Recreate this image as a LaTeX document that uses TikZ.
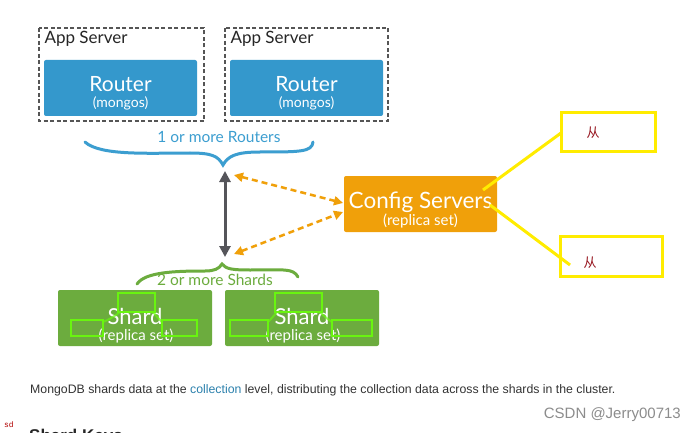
\documentclass[tikz,border=0pt]{standalone}
\usepackage{fontspec}
\setmainfont{Lato}
\newfontfamily\arialfont{Liberation Sans}
\newfontfamily\cjkfont{Noto Sans CJK SC}
\newfontfamily\monofont{Liberation Mono}
\usetikzlibrary{arrows.meta}
\definecolor{routerblue}{RGB}{52,152,204}
\definecolor{braceblue}{RGB}{60,158,208}
\definecolor{cfgorange}{RGB}{240,160,10}
\definecolor{shardgreen}{RGB}{108,172,62}
\definecolor{limegreen}{RGB}{105,245,15}
\definecolor{markyellow}{RGB}{255,236,0}
\definecolor{darkarrow}{RGB}{85,85,90}
\definecolor{dashgray}{RGB}{85,85,85}
\definecolor{cjkred}{RGB}{150,20,30}
\begin{document}
\begin{tikzpicture}[x=1pt,y=-1pt,
  appbox/.style={draw=dashgray,line width=1.3pt,dash pattern=on 4pt off 2.5pt},
  bigtxt/.style={text=white,font=\fontsize{21}{22}\selectfont,inner sep=0pt},
  smalltxt/.style={text=white,font=\fontsize{14}{15}\selectfont,inner sep=0pt},
  subtxt/.style={text=white,font=\fontsize{15}{16}\selectfont,inner sep=0pt},
  markbox/.style={draw=markyellow,line width=3pt},
  markline/.style={markyellow,line width=3pt},
  limebox/.style={draw=limegreen,line width=2.8pt},
  orangearrow/.style={cfgorange,line width=2.5pt,dash pattern=on 6pt off 4pt,{Triangle[length=9pt,width=9pt]}-{Triangle[length=9pt,width=9pt]}},
]
\useasboundingbox (0,0) rectangle (696,433);
\fill[white] (0,0) rectangle (696,433);

% App servers
\draw[appbox] (39,28) rectangle (204,121);
\node[anchor=west,font=\fontsize{17}{18}\selectfont,text=black!85] (app1) at (41,39) {App Server};
\fill[routerblue,rounded corners=2pt] (44,60) rectangle (197,116);
\node[bigtxt] (r1) at (120.5,84) {Router};
\node[smalltxt] (r1s) at (120.5,103) {(mongos)};

\draw[appbox] (225,28) rectangle (388,121);
\node[anchor=west,font=\fontsize{17}{18}\selectfont,text=black!85] (app2) at (227,39) {App Server};
\fill[routerblue,rounded corners=2pt] (230,60) rectangle (383,116);
\node[bigtxt] (r2) at (306.5,84) {Router};
\node[smalltxt] (r2s) at (306.5,103) {(mongos)};

% Blue brace
\node[text=braceblue,font=\fontsize{15.5}{16}\selectfont] (rlabel) at (219,137) {1 or more Routers};
\draw[braceblue,line width=3pt,line cap=round] (85,142) .. controls (100,156) and (150,153) .. (190,153)
  .. controls (212,153) and (218,156) .. (223,165)
  .. controls (228,156) and (236,152) .. (260,152)
  .. controls (300,152) and (312,152) .. (313,142);
\coordinate (btop) at (225,171);

% Green brace
\draw[shardgreen,line width=3pt,line cap=round] (137,284) .. controls (145,272) and (175,271) .. (205,271)
  .. controls (214,271) and (219,269) .. (222,264)
  .. controls (226,269) and (232,270) .. (250,270)
  .. controls (285,270) and (293,268) .. (298,277);
\node[text=shardgreen,font=\fontsize{15.5}{16}\selectfont] (slabel) at (215,280) {2 or more Shards};
\coordinate (bbot) at (225,257);

% vertical arrow
\draw[darkarrow,line width=3pt,{Triangle[length=11pt,width=11pt]}-{Triangle[length=11pt,width=11pt]}] (btop) -- (bbot);

% Config servers
\fill[cfgorange,rounded corners=2pt] (344,176) rectangle (497,232);
\node[text=white,font=\fontsize{22.5}{23}\selectfont,inner sep=0pt] (cfg) at (420.5,202) {Config Servers};
\node[subtxt] (cfgs) at (420.5,221) {(replica set)};
\coordinate (cfgL1) at (343,203);
\coordinate (cfgL2) at (343,212);
\coordinate (o1) at (234,175);
\coordinate (o2) at (234,254);
\draw[orangearrow] (o1) -- (cfgL1);
\draw[orangearrow] (o2) -- (cfgL2);

% Shards
\fill[shardgreen,rounded corners=2pt] (58,290) rectangle (212,346);
\node[text=white,font=\fontsize{22}{23}\selectfont,inner sep=0pt] (sh1) at (135,316) {Shard};
\node[subtxt] (sh1s) at (136,336) {(replica set)};
\fill[shardgreen,rounded corners=2pt] (225,290) rectangle (379,346);
\node[text=white,font=\fontsize{22}{23}\selectfont,inner sep=0pt] (sh2) at (302,316) {Shard};
\node[subtxt] (sh2s) at (303,336) {(replica set)};

% lime overlay boxes
\draw[limebox] (118,293) rectangle (155,312);
\draw[limebox] (71,320) rectangle (103,336);
\draw[limebox] (162,320) rectangle (197,336);
\draw[limegreen,line width=2pt,opacity=0.7] (120,312) .. controls (112,318) and (108,320) .. (103,322);
\draw[limegreen,line width=2pt,opacity=0.7] (153,312) .. controls (158,318) and (160,320) .. (162,322);
\draw[limebox] (275,293) rectangle (322,312);
\draw[limebox] (230,320) rectangle (268,336);
\draw[limebox] (332,320) rectangle (372,336);
\draw[limegreen,line width=2pt,opacity=0.7] (277,312) .. controls (272,318) and (270,320) .. (268,322);
\draw[limegreen,line width=2pt,opacity=0.7] (320,312) .. controls (326,318) and (329,320) .. (332,322);

% yellow marks
\draw[markbox] (561,113) rectangle (655,152);
\draw[markbox] (560,236) rectangle (662,276);
\node[text=cjkred,font=\cjkfont\fontsize{13}{13}\selectfont] (c1) at (593,133) {从};
\node[text=cjkred,font=\cjkfont\fontsize{13}{13}\selectfont] (c2) at (590,263) {从};
\draw[markline] (483,190) -- (561,133);
\draw[markline] (490,205) -- (570,265);

% bottom text
\node[anchor=west,font=\arialfont\fontsize{12.3}{13}\selectfont,text=black!80,inner sep=0pt] (para) at (30,390) {MongoDB shards data at the \textcolor{routerblue!85!black}{collection} level, distributing the collection data across the shards in the cluster.};
\node[anchor=east,font=\arialfont\fontsize{15}{16}\selectfont,text=black!45,inner sep=0pt] (wm) at (681,415) {CSDN @Jerry00713};
\node[anchor=west,font=\monofont\fontsize{8}{8}\selectfont,text=red!70!black,inner sep=0pt] (sd) at (4,425) {sd};
\node[anchor=west,font=\arialfont\bfseries\fontsize{17}{18}\selectfont,text=black!85,inner sep=0pt] (sk) at (29,437) {Shard Keys};
\end{tikzpicture}
\end{document}
